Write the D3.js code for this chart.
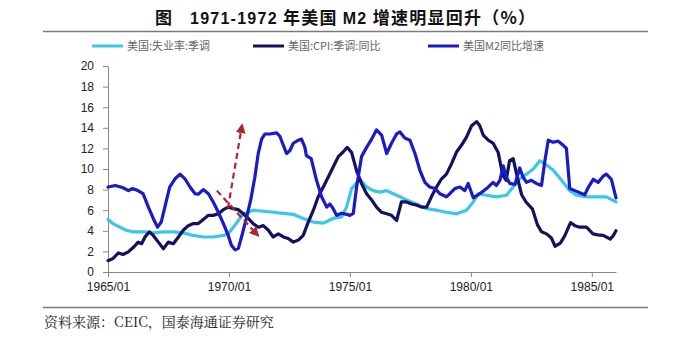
<!DOCTYPE html>
<html>
<head>
<meta charset="utf-8">
<script src="https://cdn.jsdelivr.net/npm/d3@7"></script>
<style>
  html, body { margin: 0; padding: 0; background: #fff; }
  svg { display: block; }
</style>
</head>
<body>
<svg id="chart" width="700" height="343"></svg>
<script>
// ---------------- DATA ----------------
const titlePrefix = "图";
const titleParts = ["1971-1972", " 年美国 ", "M2", " 增速明显回升（%）"];
const sourceText = "资料来源：CEIC，国泰海通证券研究";
const seriesNames = ["美国:失业率:季调", "美国:CPI:季调:同比", "美国M2同比增速"];
const yTicks = [0, 2, 4, 6, 8, 10, 12, 14, 16, 18, 20];
const xTicks = [1965, 1970, 1975, 1980, 1985];
const xTickLabels = ["1965/01", "1970/01", "1975/01", "1980/01", "1985/01"];

// Unemployment rate (SA)
const unempYears = [1965.0,1965.2,1965.5,1965.75,1966.05,1966.46,1966.87,1967.29,1967.7,1968.11,1968.53,1968.94,1969.35,1969.77,1969.97,1970.18,1970.39,1970.59,1970.8,1971.0,1971.42,1971.83,1972.25,1972.66,1973.07,1973.49,1973.9,1974.31,1974.66,1974.86,1975.07,1975.3,1975.45,1975.69,1975.96,1976.24,1976.52,1976.79,1977.07,1977.34,1977.75,1978.17,1978.58,1978.99,1979.41,1979.82,1980.1,1980.31,1980.65,1981.06,1981.47,1981.75,1982.02,1982.3,1982.58,1982.85,1983.06,1983.4,1983.75,1984.09,1984.37,1984.78,1985.19,1985.6,1986.0];
const unempValues = [5.1,4.7,4.35,4.05,3.9,3.9,3.8,3.9,3.9,3.8,3.55,3.4,3.4,3.55,3.7,4.35,5.0,5.65,5.8,6.0,5.9,5.8,5.7,5.6,5.2,4.85,4.75,5.2,5.35,6.3,8.1,8.7,8.9,8.25,7.9,7.75,7.9,7.6,7.3,7.0,6.6,6.15,6.0,5.8,5.65,6.0,6.8,7.6,7.45,7.3,7.45,8.25,9.05,9.5,10.0,10.8,10.5,9.9,8.9,7.9,7.45,7.3,7.3,7.3,6.8];

// CPI (SA, YoY)
const cpiYears = [1965.0,1965.2,1965.43,1965.62,1965.84,1966.05,1966.25,1966.39,1966.53,1966.71,1966.87,1967.08,1967.29,1967.49,1967.7,1967.91,1968.11,1968.32,1968.53,1968.73,1968.94,1969.15,1969.35,1969.56,1969.77,1969.97,1970.18,1970.39,1970.59,1970.8,1971.0,1971.21,1971.42,1971.63,1971.83,1972.04,1972.25,1972.45,1972.66,1972.87,1973.07,1973.28,1973.49,1973.69,1973.9,1974.1,1974.31,1974.52,1974.72,1974.89,1975.07,1975.28,1975.48,1975.69,1975.9,1976.1,1976.31,1976.52,1976.72,1976.93,1977.13,1977.34,1977.55,1977.75,1977.96,1978.17,1978.37,1978.58,1978.79,1978.99,1979.2,1979.41,1979.61,1979.82,1980.03,1980.24,1980.37,1980.51,1980.72,1980.92,1981.13,1981.32,1981.46,1981.6,1981.75,1981.92,1982.1,1982.28,1982.55,1982.75,1982.92,1983.13,1983.33,1983.48,1983.7,1983.88,1984.12,1984.3,1984.5,1984.78,1985.05,1985.25,1985.47,1985.76,1985.88,1986.0];
const cpiValues = [1.1,1.3,1.85,1.7,1.95,2.4,2.9,2.75,3.4,3.9,3.55,2.9,2.25,2.9,2.75,3.4,4.05,4.5,4.7,4.7,5.1,5.5,5.5,5.65,6.05,6.3,6.15,6.05,5.65,5.2,4.7,4.35,4.5,4.05,3.4,3.7,3.4,3.25,2.9,3.1,3.55,4.85,6.0,7.3,8.25,9.2,10.2,11.2,11.65,12.1,11.6,9.8,8.6,7.6,7.0,6.3,5.8,5.65,5.5,5.0,6.8,6.8,6.6,6.5,6.3,6.3,7.3,8.25,9.05,9.5,10.5,11.65,12.3,13.1,14.2,14.6,14.2,13.3,12.8,12.5,11.6,9.4,8.9,10.8,11.0,9.2,7.5,6.8,6.1,4.6,3.9,3.7,3.3,2.5,2.8,3.5,4.8,4.5,4.35,4.35,3.7,3.6,3.55,3.2,3.5,4.0];

// M2 YoY growth
const m2Years = [1965.0,1965.3,1965.6,1965.85,1966.0,1966.2,1966.45,1966.67,1966.87,1967.05,1967.2,1967.35,1967.55,1967.77,1967.98,1968.18,1968.39,1968.6,1968.73,1968.94,1969.15,1969.35,1969.56,1969.77,1969.97,1970.1,1970.25,1970.39,1970.52,1970.73,1970.9,1971.07,1971.21,1971.35,1971.49,1971.69,1971.97,1972.1,1972.25,1972.38,1972.52,1972.66,1972.87,1973.0,1973.14,1973.2,1973.4,1973.62,1973.83,1974.04,1974.17,1974.31,1974.45,1974.66,1974.86,1975.0,1975.14,1975.28,1975.48,1975.69,1975.9,1976.1,1976.31,1976.52,1976.72,1976.93,1977.07,1977.27,1977.48,1977.69,1977.89,1978.1,1978.3,1978.51,1978.72,1978.99,1979.13,1979.34,1979.55,1979.75,1979.89,1980.1,1980.37,1980.65,1980.92,1981.06,1981.2,1981.34,1981.45,1981.61,1981.82,1982.02,1982.16,1982.3,1982.5,1982.71,1982.92,1983.06,1983.2,1983.4,1983.61,1983.82,1983.95,1984.09,1984.3,1984.5,1984.71,1984.85,1985.06,1985.26,1985.47,1985.6,1985.81,1986.0];
const m2Values = [8.25,8.4,8.2,7.9,8.1,7.95,7.6,6.3,5.2,4.35,4.85,6.3,8.25,9.05,9.5,9.05,8.25,7.6,7.55,8.0,7.6,6.8,5.8,4.7,3.55,2.6,2.15,2.3,3.4,5.3,7.0,9.2,11.5,12.9,13.4,13.4,13.5,13.2,12.3,11.5,11.8,12.5,12.8,12.9,12.1,11.3,11.0,8.9,7.3,6.3,6.6,6.15,5.5,5.7,5.6,5.5,5.7,8.3,11.2,12.1,12.9,13.8,13.3,11.5,12.5,13.4,13.6,13.0,12.8,11.5,9.9,8.7,8.25,8.1,7.6,7.3,7.6,8.1,8.25,7.9,8.6,7.2,7.6,8.1,8.7,8.4,8.9,10.3,9.3,8.6,8.5,10.1,9.2,8.7,8.9,8.6,8.4,10.8,12.8,12.6,12.7,12.3,12.0,8.1,7.9,7.7,7.5,8.2,9.0,8.7,9.3,9.5,9.0,7.2];

// Annotation arrows (data coordinates: [year, value])
const arrowUp = [[1969.96, 6.2], [1970.54, 14.25]];
const arrowDown = [[1969.5, 7.9], [1971.2, 3.55]];

// ---------------- DRAW ----------------
const svg = d3.select("#chart");
const x = d3.scaleLinear().domain([1965, 1986]).range([108, 616]);
const y = d3.scaleLinear().domain([0, 20]).range([272, 66]);

const latin = "'Liberation Sans', Arial, 'Noto Sans CJK SC', sans-serif";
const cjk = "'Noto Sans CJK SC', 'Liberation Sans', sans-serif";

// Title
svg.append("text").attr("x", 155).attr("y", 24)
  .style("font-family", cjk).style("font-size", "17px").style("font-weight", "bold")
  .attr("fill", "#111").text(titlePrefix);
const title = svg.append("text").attr("x", 190).attr("y", 24)
  .attr("textLength", 345).attr("lengthAdjust", "spacing")
  .style("font-weight", "bold").attr("fill", "#111");
titleParts.forEach((p, i) => {
  title.append("tspan")
    .style("font-family", i % 2 === 0 ? latin : cjk)
    .style("font-size", i % 2 === 0 ? "16px" : "17px")
    .text(p);
});

// Rules
svg.append("line").attr("x1", 43).attr("x2", 648).attr("y1", 31.5).attr("y2", 31.5)
  .attr("stroke", "#7a7a7a").attr("stroke-width", 1.6);
svg.append("line").attr("x1", 43).attr("x2", 648).attr("y1", 307.5).attr("y2", 307.5)
  .attr("stroke", "#7a7a7a").attr("stroke-width", 1.6);

// Legend
const colors = ["#3cc6ea", "#12125e", "#1a1ac6"];
const legendX = [92, 253, 428];
seriesNames.forEach((name, i) => {
  svg.append("line").attr("x1", legendX[i]).attr("x2", legendX[i] + 31)
    .attr("y1", 46).attr("y2", 46).attr("stroke", colors[i]).attr("stroke-width", 3);
  svg.append("text").attr("x", legendX[i] + 35).attr("y", 50)
    .style("font-family", cjk).style("font-size", "11px").attr("fill", "#666")
    .text(name);
});

// Axes
const yAxis = d3.axisLeft(y).tickValues(yTicks).tickSize(5).tickPadding(9).tickSizeOuter(0);
const gy = svg.append("g").attr("transform", "translate(108,0)").call(yAxis);
gy.selectAll("text").style("font-family", latin).style("font-size", "12px").attr("fill", "#222");
gy.selectAll("line, path").attr("stroke", "#888");

const xAxis = d3.axisBottom(x).tickValues(xTicks)
  .tickFormat((d, i) => xTickLabels[i]).tickSize(5).tickPadding(5).tickSizeOuter(0);
const gx = svg.append("g").attr("transform", "translate(0,272)").call(xAxis);
gx.selectAll("text").style("font-family", latin).style("font-size", "12px").attr("fill", "#222");
gx.selectAll("line, path").attr("stroke", "#888");

// Lines
const line = d3.line().x(d => x(d[0])).y(d => y(d[1]));
const series = [
  d3.zip(unempYears, unempValues),
  d3.zip(cpiYears, cpiValues),
  d3.zip(m2Years, m2Values)
];
series.forEach((data, i) => {
  svg.append("path").datum(data).attr("d", line)
    .attr("fill", "none").attr("stroke", colors[i]).attr("stroke-width", 3.2)
    .attr("stroke-linejoin", "round").attr("stroke-linecap", "round");
});

// Arrows
const defs = svg.append("defs");
defs.append("marker").attr("id", "arrowhead").attr("viewBox", "0 0 10 10")
  .attr("refX", 8).attr("refY", 5).attr("markerWidth", 4.5).attr("markerHeight", 4.5)
  .attr("orient", "auto").attr("markerUnits", "strokeWidth")
  .append("path").attr("d", "M0,0 L10,5 L0,10 Z").attr("fill", "#b0262a");
[arrowUp, arrowDown].forEach(a => {
  svg.append("path").datum(a).attr("d", line)
    .attr("fill", "none").attr("stroke", "#b0262a").attr("stroke-width", 2.2)
    .attr("stroke-dasharray", "6,4").attr("marker-end", "url(#arrowhead)");
});

// Source
svg.append("text").attr("x", 44).attr("y", 327)
  .style("font-family", "'Noto Serif CJK SC', 'Noto Sans CJK SC', serif").style("font-size", "14px")
  .attr("fill", "#222").text(sourceText);
</script>
</body>
</html>
